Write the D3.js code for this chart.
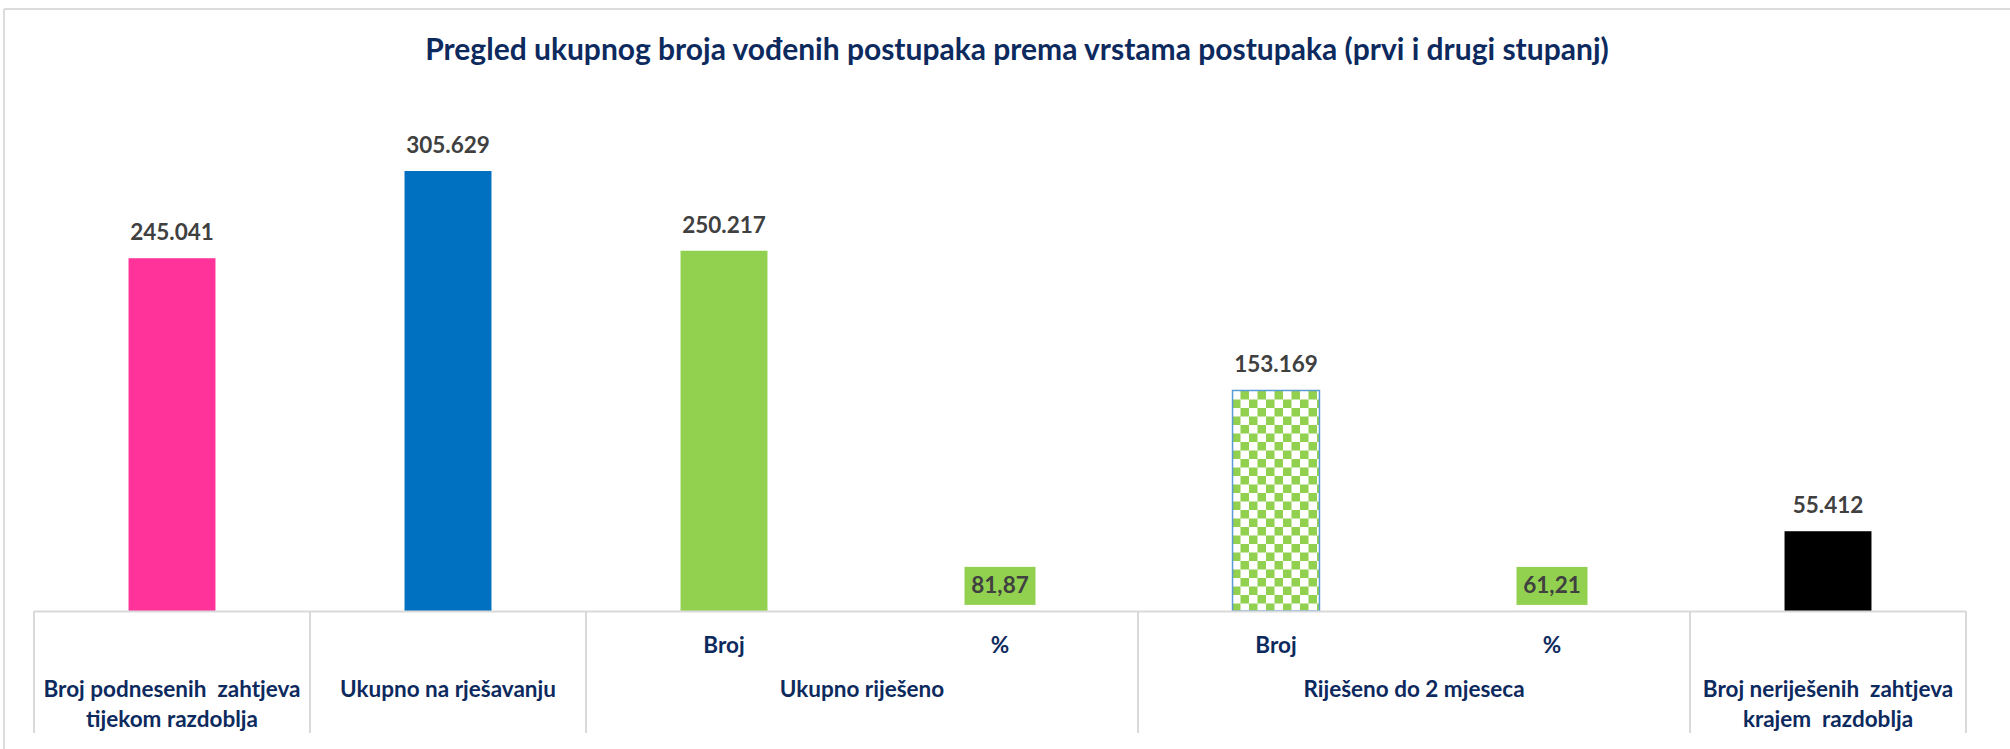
<!DOCTYPE html>
<html><head><meta charset="utf-8">
<script src="https://cdn.jsdelivr.net/npm/d3@7"></script>
<style>
html,body{margin:0;padding:0;background:#fff;}
svg{display:block;}
text{font-family:Lato,"Open Sans",sans-serif;font-weight:bold;}
</style></head>
<body>
<script>
// ---- data ----
const titleText = "Pregled ukupnog broja vođenih postupaka prema vrstama postupaka (prvi i drugi stupanj)";
const categories = ["Broj podnesenih  zahtjeva|tijekom razdoblja", "Ukupno na rješavanju", "Broj", "%", "Broj", "%", "Broj neriješenih  zahtjeva|krajem  razdoblja"];
const values = [245041, 305629, 250217, 81.87, 153169, 61.21, 55412];
const isPercent = [false, false, false, true, false, true, false];
const barFills = ["#ff3399", "#0070c0", "#92d050", "#92d050", "url(#checker)", "#92d050", "#000000"];
const groupLabels = ["Ukupno riješeno", "Riješeno do 2 mjeseca"];
const groupSpans = [[2, 3], [4, 5]];

const W = 2010, H = 749;
const svg = d3.select("body").append("svg").attr("width", W).attr("height", H);

const defs = svg.append("defs");
const pat = defs.append("pattern").attr("id", "checker").attr("patternUnits", "userSpaceOnUse")
  .attr("width", 17).attr("height", 17).attr("x", 1232).attr("y", 391);
pat.append("rect").attr("width", 17).attr("height", 17).attr("fill", "#ffffff");
pat.append("rect").attr("x", 8.5).attr("y", 0).attr("width", 8.5).attr("height", 8.5).attr("fill", "#92d050");
pat.append("rect").attr("x", 0).attr("y", 8.5).attr("width", 8.5).attr("height", 8.5).attr("fill", "#92d050");

// outer frame
svg.append("line").attr("x1", 4).attr("x2", W).attr("y1", 9).attr("y2", 9).attr("stroke", "#dcdcdc").attr("stroke-width", 2);
svg.append("line").attr("x1", 4).attr("x2", 4).attr("y1", 9).attr("y2", H).attr("stroke", "#dcdcdc").attr("stroke-width", 2);

// title
svg.append("text").attr("x", 1017).attr("y", 60).attr("text-anchor", "middle")
  .attr("font-size", 30).attr("fill", "#0d2a5e").text(titleText);

const x = d3.scaleBand().domain(d3.range(categories.length)).range([34, 1966])
  .paddingInner(0.685).paddingOuter(0.3425);
const y = d3.scaleLinear().domain([0, 350000]).range([611, 611 - 350000 * 440 / 305629]);

const loc = d3.formatLocale({decimal: ",", thousands: ".", grouping: [3], currency: ["", ""]});
const fmtInt = loc.format(",d");
const fmtPct = loc.format(".2f");

// bars
svg.append("g").selectAll("rect").data(values).join("rect")
  .attr("x", (d, i) => x(i)).attr("width", x.bandwidth())
  .attr("y", d => y(d)).attr("height", d => y(0) - y(d))
  .attr("fill", (d, i) => barFills[i])
  .attr("stroke", (d, i) => i === 4 ? "#5b9bd5" : "none")
  .attr("stroke-width", 1.5);

// axis line + table
const gridColor = "#d9d9d9";
svg.append("line").attr("x1", 34).attr("x2", 1966).attr("y1", 611.5).attr("y2", 611.5)
  .attr("stroke", gridColor).attr("stroke-width", 2);
const step = x.step();
const sepIdx = [0, 1, 2, 4, 6, 7];
svg.append("g").selectAll("line").data(sepIdx).join("line")
  .attr("x1", i => 34 + i * step).attr("x2", i => 34 + i * step)
  .attr("y1", 611).attr("y2", 733).attr("stroke", gridColor).attr("stroke-width", 2);

// value labels
const lbl = svg.append("g");
values.forEach((v, i) => {
  const cx = x(i) + x.bandwidth() / 2;
  const by = y(v) - 18;
  if (isPercent[i]) {
    lbl.append("rect").attr("x", cx - 35.5).attr("y", by - 26).attr("width", 71).attr("height", 38)
      .attr("fill", "#92d050");
  }
  lbl.append("text").attr("x", cx).attr("y", by).attr("text-anchor", "middle")
    .attr("font-size", 22.5).attr("fill", "#404040")
    .text(isPercent[i] ? fmtPct(v) : fmtInt(v));
});

// category labels
const cat = svg.append("g").attr("fill", "#0d2a5e").attr("font-size", 22.5);
categories.forEach((c, i) => {
  const cx = x(i) + x.bandwidth() / 2;
  const inGroup = groupSpans.some(s => i >= s[0] && i <= s[1]);
  const lines = c.split("|");
  const y0 = inGroup ? 653 : 697;
  lines.forEach((ln, k) => {
    cat.append("text").attr("x", cx).attr("y", y0 + k * 29.5).attr("text-anchor", "middle")
      .style("white-space", "pre").text(ln);
  });
});
groupLabels.forEach((g, j) => {
  const s = groupSpans[j];
  const cx = (x(s[0]) + x(s[1]) + x.bandwidth()) / 2;
  cat.append("text").attr("x", cx).attr("y", 697).attr("text-anchor", "middle").text(g);
});
</script>
</body></html>
